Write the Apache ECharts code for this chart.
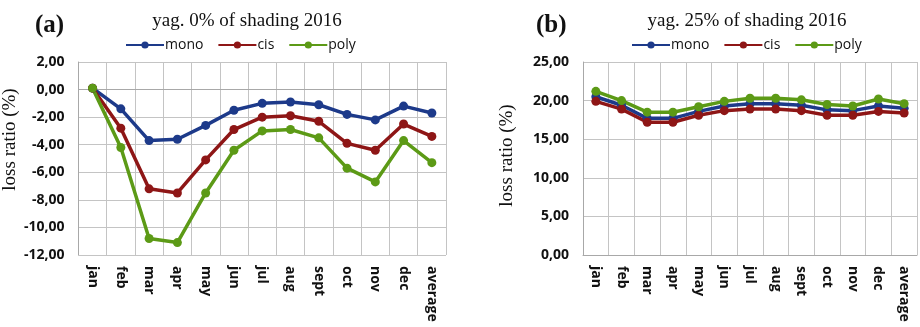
<!DOCTYPE html>
<html><head><meta charset="utf-8">
<script src="https://cdn.jsdelivr.net/npm/echarts@6/dist/echarts.min.js"></script>
<style>html,body{margin:0;padding:0;background:#fff}#c{width:920px;height:327px}</style>
</head><body><div id="c"></div>
<script>
const categories = ['jan','feb','mar','apr','may','jun','jul','aug','sept','oct','nov','dec','average'];
const seriesNames = ['mono','cis','poly'];
// (a) yag. 0% of shading 2016
const monoA = [0.1,-1.4,-3.7,-3.6,-2.6,-1.5,-1.0,-0.9,-1.1,-1.8,-2.2,-1.2,-1.7];
const cisA  = [0.1,-2.8,-7.2,-7.5,-5.1,-2.9,-2.0,-1.9,-2.3,-3.9,-4.4,-2.5,-3.4];
const polyA = [0.1,-4.2,-10.8,-11.1,-7.5,-4.4,-3.0,-2.9,-3.5,-5.7,-6.7,-3.7,-5.3];
// (b) yag. 25% of shading 2016
const monoB = [20.5,19.4,17.7,17.7,18.6,19.3,19.6,19.6,19.4,18.8,18.7,19.3,19.0];
const cisB  = [19.9,18.9,17.2,17.2,18.1,18.7,18.9,18.9,18.7,18.1,18.1,18.6,18.4];
const polyB = [21.2,20.0,18.5,18.5,19.2,19.9,20.3,20.3,20.1,19.5,19.3,20.2,19.6];
const titles = ['yag. 0% of shading 2016','yag. 25% of shading 2016'];
const panelLabels = ['(a)','(b)'];
const yTicksA = {min:-12,max:2,interval:2};
const yTicksB = {min:0,max:25,interval:5};

const colors = ['#1d3a8a','#8e1616','#5c9a16'];
const chart = echarts.init(document.getElementById('c'));
const fmt = v => v.toFixed(2).replace('.', ',');
const grids = [
  {left:78, right:474, top:62, bottom:72},
  {left:583, right:3, top:62, bottom:72}
];
function xAxis(i){return {type:'category',gridIndex:i,data:categories,boundaryGap:true,
  axisLine:{lineStyle:{color:'#a8a8a8'}},axisTick:{show:false},
  splitLine:{show:true,interval:0,lineStyle:{color:'#c4c4c4',width:1}},
  axisLabel:{rotate:-90,interval:0,color:'#111',fontFamily:'Open Sans',fontWeight:'bold',fontSize:14,margin:11}};}
function yAxis(i,t){return {type:'value',gridIndex:i,min:t.min,max:t.max,interval:t.interval,
  name:'loss ratio (%)',nameLocation:'middle',nameGap:i===0?58:66,nameRotate:90,
  nameTextStyle:{fontFamily:'Liberation Serif',fontSize:19,color:'#111',
    padding:i===0?[0,0,0,38]:[0,0,0,6]},
  axisLine:{show:true,lineStyle:{color:'#a8a8a8'}},axisTick:{show:false},
  splitLine:{lineStyle:{color:'#c4c4c4'}},
  axisLabel:{formatter:fmt,color:'#111',fontFamily:'Open Sans',fontWeight:'bold',fontSize:14,margin:14}};}
function line(name,data,i,c){return {name,type:'line',xAxisIndex:i,yAxisIndex:i,data,
  symbol:'circle',symbolSize:9,lineStyle:{width:3.5,color:c},itemStyle:{color:c}};}
const dataA=[monoA,cisA,polyA], dataB=[monoB,cisB,polyB];
const series=[];
seriesNames.forEach((n,k)=>series.push(line(n,dataA[k],0,colors[k])));
seriesNames.forEach((n,k)=>series.push(line(n,dataB[k],1,colors[k])));
const legendBase = {itemWidth:38,itemHeight:9,itemGap:14,
  textStyle:{fontFamily:'Open Sans',fontSize:14,color:'#111',padding:[0,0,0,-4]},data:seriesNames};
const titleStyle = {fontFamily:'Liberation Serif',fontWeight:'normal',fontSize:19,color:'#111'};
chart.setOption({
  animation:false,
  color:colors,
  title:[
    {text:titles[0],left:242,top:7,textAlign:'center',textStyle:titleStyle},
    {text:titles[1],left:742,top:7,textAlign:'center',textStyle:titleStyle},
    {text:panelLabels[0],left:30,top:8,textStyle:{fontFamily:'Liberation Serif',fontWeight:'bold',fontSize:25,color:'#111'}},
    {text:panelLabels[1],left:531,top:8,textStyle:{fontFamily:'Liberation Serif',fontWeight:'bold',fontSize:25,color:'#111'}}
  ],
  legend:[
    Object.assign({left:120,top:33},legendBase),
    Object.assign({left:626,top:33},legendBase)
  ],
  grid:grids,
  xAxis:[xAxis(0),xAxis(1)],
  yAxis:[yAxis(0,yTicksA),yAxis(1,yTicksB)],
  series
});
</script></body></html>
